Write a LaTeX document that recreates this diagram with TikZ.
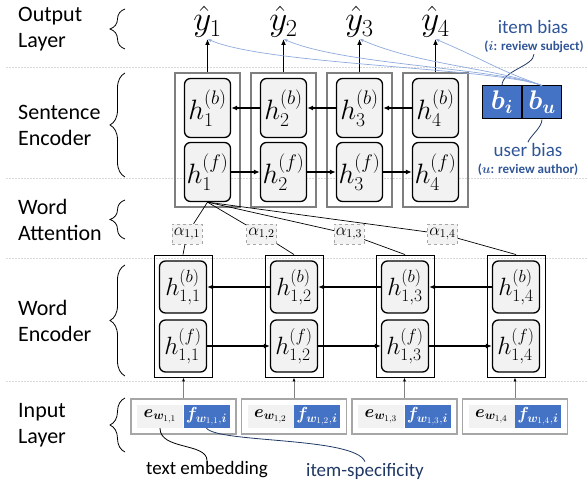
\RequirePackage{fix-cm}
\documentclass[tikz,border=0pt]{standalone}
\usepackage{fontspec}
\setmainfont{Carlito}
\usepackage{amsmath,bm}
\usetikzlibrary{positioning, calc, arrows.meta, decorations.pathreplacing}
\definecolor{cellblue}{RGB}{68,114,196}
\definecolor{cellgray}{RGB}{242,242,242}
\definecolor{framegray}{RGB}{127,127,127}
\definecolor{inputgray}{RGB}{166,166,166}
\definecolor{biasline}{RGB}{143,170,220}
\definecolor{biastext}{RGB}{47,85,151}
\definecolor{navyline}{RGB}{32,56,100}

\begin{document}
\begin{tikzpicture}[x=1pt, y=-1pt,
		layerlab/.style={font=\fontsize{22}{26}\selectfont, align=left, anchor=west, inner sep=0pt},
		sentbox/.style={draw=framegray, line width=1.2pt, minimum width=65pt, minimum height=134pt, inner sep=0pt},
		sentcell/.style={draw, line width=1.3pt, rounded corners=6pt, fill=cellgray, minimum width=46pt, minimum height=59pt, inner sep=0pt, font=\fontsize{28}{28}\selectfont},
		wordbox/.style={draw, line width=0.9pt, minimum width=58pt, minimum height=122pt, inner sep=0pt},
		wordcell/.style={sentcell, minimum width=47pt, minimum height=52pt, font=\fontsize{25}{25}\selectfont},
		inbox/.style={draw=inputgray, line width=1.5pt, minimum width=105pt, minimum height=35pt, inner sep=0pt},
		emb/.style={fill=cellgray, minimum width=46pt, minimum height=23pt, inner sep=0pt, font=\fontsize{17.5}{17.5}\selectfont},
		spec/.style={emb, fill=cellblue, text=white},
		attn/.style={draw=inputgray, dashed, fill=cellgray, minimum width=30pt, minimum height=20pt, inner sep=0pt, font=\fontsize{17}{17}\selectfont},
		bias/.style={draw, line width=1pt, fill=cellblue, text=white, minimum width=39pt, minimum height=33pt, inner sep=0pt, font=\fontsize{27}{27}\selectfont},
		biaslab/.style={text=biastext, font=\fontsize{19}{19}\selectfont, inner sep=1pt},
		biassub/.style={text=biastext, font=\bfseries\fontsize{13}{13}\selectfont, inner sep=1pt},
		conn/.style={line width=1.3pt, -{Latex[length=6pt,width=5pt]}},
		thinconn/.style={draw=gray, line width=0.7pt, -{Latex[length=4pt,width=3pt,black]}},
		biasconn/.style={biasline, line width=0.7pt, -{Latex[length=4pt,width=3pt]}},
		sep/.style={draw=black!15, dash pattern=on 2pt off 1pt, line width=0.6pt},
		lbrace/.style={decorate, decoration={brace, amplitude=15pt}, line width=0.8pt}
		]
		\useasboundingbox (0,0) rectangle (587,489);
		
		\foreach \yy in {67,178,258,381}
			\draw[sep] (6,\yy) -- (587,\yy);
		
		% layer names
		\node[layerlab] (lout) at (18,29.5) {Output\\Layer};
		\node[layerlab] (lsent) at (18,125) {Sentence\\Encoder};
		\node[layerlab] (latt) at (18,219.5) {Word\\Attention};
		\node[layerlab] (lword) at (18,320.5) {Word\\Encoder};
		\node[layerlab] (lin) at (18,425) {Input\\Layer};
		\foreach \top/\bot in {9/49,73/177,200/239,265/376,398/452}
			\draw[lbrace] (125,\bot) -- (125,\top);
		
		% sentence encoder
		\foreach \i in {1,...,4}{
			\node[sentbox] (s\i) at ({207.5+76*(\i-1)},140) {};
			\node[sentcell] (sb\i) at ({207.5+76*(\i-1)},108) {$h_{\i}^{(b)}$};
			\node[sentcell] (sf\i) at ({207.5+76*(\i-1)},172) {$h_{\i}^{(f)}$};
			\node[anchor=south, inner sep=1pt, font=\fontsize{35}{35}\selectfont] (y\i) at ({207.5+76*(\i-1)},39) {$\hat{y}_{\i}$};
			\draw[conn] (s\i) -- (y\i);
		}
		\foreach \i/\j in {1/2,2/3,3/4}{
			\draw[conn] (sb\j) -- (sb\i);
			\draw[conn] (sf\i) -- (sf\j);
		}
		
		% word encoder and input layer
		\foreach \i in {1,...,4}{
			\node[wordbox] (w\i) at ({183+111*(\i-1)},316) {};
			\node[wordcell] (wb\i) at ({183+111*(\i-1)},287) {$h_{1,\i}^{(b)}$};
			\node[wordcell] (wf\i) at ({183+111*(\i-1)},346) {$h_{1,\i}^{(f)}$};
			\node[inbox] (in\i) at ({183.5+110.5*(\i-1)},416.5) {};
			\node[emb] (e\i) at ([xshift=-23.5pt]in\i.center) {$\bm{e}_{\bm{w}_{1,\i}}$};
			\node[spec] (f\i) at ([xshift=23pt]in\i.center) {$\bm{f}_{\bm{w}_{1,\i},\bm{i}}$};
			\draw[thinconn] (in\i.north) -- (in\i.north |- w\i.south);
		}
		\foreach \i/\j in {1/2,2/3,3/4}{
			\draw[conn, line width=1.1pt] (wb\j) -- (wb\i);
			\draw[conn, line width=1.1pt] (wf\i) -- (wf\j);
		}
		
		% word attention
		\foreach \i/\ax in {1/187,2/261.5,3/349,4/442.5}{
			\node[attn] (a\i) at (\ax,234) {$\alpha_{1,\i}$};
			\draw[line width=0.7pt] (sf1.south) -- (a\i) -- (w\i.north);
		}
		
		% biases
		\node[bias] (bi) at (502,102.5) {$\bm{b}_{\bm{i}}$};
		\node[bias, right=0pt of bi] (bu) {$\bm{b}_{\bm{u}}$};
		\node[biaslab] (ibias) at (533,27) {item bias};
		\node[biassub] (isub) at (534,47) {($\bm{i}$: review subject)};
		\node[biaslab] (ubias) at (528,150) {user bias};
		\node[biassub] (usub) at (528,170) {($\bm{u}$: review author)};
		\draw[navyline, line width=0.8pt] (bi.north) .. controls ($(bi.north)+(0,-15)$) and ($(isub.south)+(0,12)$) .. (isub.south);
		\draw[navyline, line width=0.8pt] (bu.south) .. controls ($(bu.south)+(0,8)$) and ($(ubias.north)+(2,-6)$) .. (ubias.north);
		\foreach \i in {1,...,4}
			\draw[biasconn] (bu.north) .. controls ($(bu.north)+(-50,-18)$) and ($(y\i.south)+(60,26)$) .. (y\i.south);
		
		% annotations
		\node[font=\fontsize{19}{19}\selectfont, inner sep=1pt] (temb) at (207,470) {text embedding};
		\node[font=\fontsize{19}{19}\selectfont, text=navyline, inner sep=1pt] (ispec) at (365,471) {item-specificity};
		\draw[line width=0.8pt] (e1.south) .. controls ($(e1.south)+(0,22)$) and ($(temb.north)+(0,-18)$) .. (temb.north);
		\draw[navyline, line width=0.8pt] (f1.south) .. controls ($(f1.south)+(12,15)$) and ($(ispec.north)+(-10,-25)$) .. (ispec.north);
	\end{tikzpicture}
\end{document}
